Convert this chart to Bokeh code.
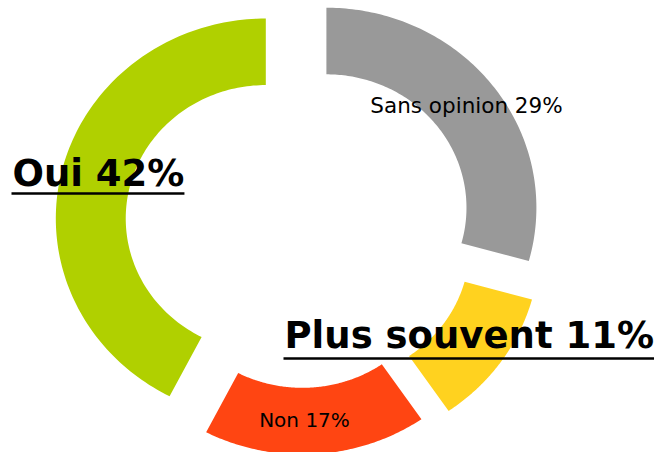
import numpy as np
from bokeh.plotting import figure
from bokeh.models import Range1d, ColumnDataSource
from bokeh.core.properties import value
from bokeh.embed import file_html
from bokeh.resources import INLINE

# ---- data ----
categories = ["Sans opinion", "Plus souvent", "Non", "Oui"]
values = [29, 11, 17, 42]
colors = ["#999999", "#FFD21F", "#FF4512", "#B0D000"]

# ---- geometry / style ----
W, H = 662, 452
PX_X, PX_Y = 210.0, 200.0          # pixels per data unit
CX_PX, CY_PX = 300.0, 226.0        # donut centre (pixels from top-left)
R_OUT, R_IN = 1.0, 0.667
EXPLODE = [0.155, 0.17, 0.14, 0.17]  # per-slice pull-out distance


def dx(px):
    return (px - CX_PX) / PX_X


def dy(py):
    return (CY_PX - py) / PX_Y


p = figure(width=W, height=H, output_backend="svg", toolbar_location=None,
           x_range=Range1d(dx(0), dx(W)), y_range=Range1d(dy(H), dy(0)),
           min_border=0, outline_line_color=None)
p.axis.visible = False
p.grid.visible = False
p.background_fill_color = "white"
p.border_fill_color = "white"

total = float(sum(values))
xs, ys = [], []
cum = 0.0
for v, ex in zip(values, EXPLODE):
    a0 = np.pi / 2 - cum / total * 2 * np.pi
    a1 = a0 - v / total * 2 * np.pi
    cum += v
    mid = (a0 + a1) / 2
    ox, oy = ex * np.cos(mid), ex * np.sin(mid)
    t = np.linspace(a0, a1, 120)
    px = np.concatenate([ox + R_OUT * np.cos(t), ox + R_IN * np.cos(t[::-1])])
    py = np.concatenate([oy + R_OUT * np.sin(t), oy + R_IN * np.sin(t[::-1])])
    xs.append(px.tolist())
    ys.append(py.tolist())

src = ColumnDataSource(dict(xs=xs, ys=ys, color=colors, cat=categories))
p.patches("xs", "ys", fill_color="color", line_color=None, source=src)

# ---- labels ----
labels = [f"{c} {v}%" for c, v in zip(categories, values)]

# approximate DejaVu Sans Bold advance widths (em) for underline length
BOLD_W = {"P": .733, "l": .343, "u": .712, "s": .595, " ": .348, "o": .687,
          "v": .652, "e": .678, "n": .712, "t": .478, "1": .696, "%": 1.002,
          "O": .850, "i": .343, "4": .696, "2": .696}

# x, baseline y in pixels; underline y in pixels
label_style = {
    "Sans opinion": dict(x=466, base=113, align="center", size=21.5, bold=False),
    "Plus souvent": dict(x=284, base=348, align="left", size=37, bold=True, under=358),
    "Non":          dict(x=304, base=427, align="center", size=20, bold=False),
    "Oui":          dict(x=12, base=186, align="left", size=37, bold=True, under=193),
}
BASE_SHIFT = 0.36  # em: svg text anchor-to-baseline correction

for cat, lab in zip(categories, labels):
    s = label_style[cat]
    p.text(x=[dx(s["x"])], y=[dy(s["base"] - BASE_SHIFT * s["size"])], text=[lab],
           text_font=value("DejaVu Sans"),
           text_font_size=f"{s['size']}px",
           text_font_style="bold" if s["bold"] else "normal",
           text_align=s["align"], text_baseline="alphabetic",
           text_color="black")
    if s["bold"]:
        wpx = sum(BOLD_W.get(ch, .7) for ch in lab) * s["size"]
        uy = dy(s["under"])
        p.segment(x0=[dx(s["x"] - 1)], y0=[uy], x1=[dx(s["x"] + wpx)], y1=[uy],
                  line_color="black", line_width=2.5)

open("out.html", "w").write(file_html(p, INLINE))
